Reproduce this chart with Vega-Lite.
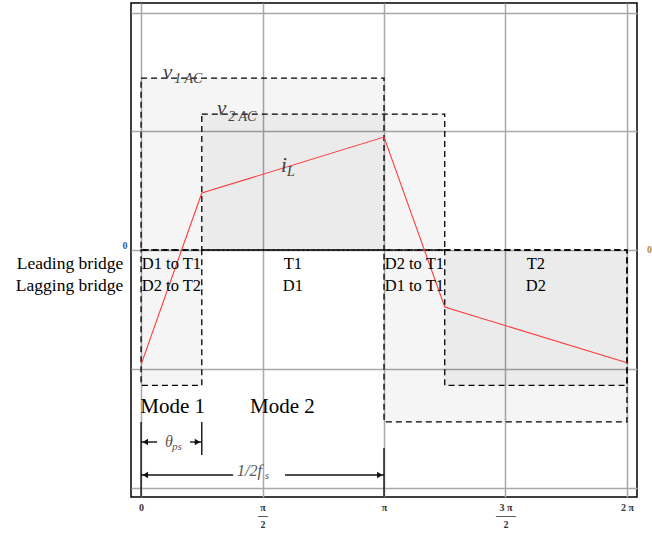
{
  "$schema": "https://vega.github.io/schema/vega-lite/v6.json",
  "width": 506,
  "height": 494,
  "autosize": {"type": "none"},
  "padding": {"left": 131, "top": 3, "right": 15, "bottom": 36},
  "config": {
    "view": {"stroke": "#000000", "strokeWidth": 1.5},
    "background": "#ffffff",
    "font": "Liberation Serif, Times New Roman, serif"
  },
  "datasets": {
    "boxes": [
      {"name": "v1 positive", "x": 0, "x2": 3.1416, "y": 0, "y2": 1.448},
      {"name": "v1 negative", "x": 3.1416, "x2": 6.2832, "y": -1.448, "y2": 0},
      {"name": "v2 positive", "x": 0.7854, "x2": 3.927, "y": 0, "y2": 1.145},
      {"name": "v2 negative start", "x": 0, "x2": 0.7854, "y": -1.14, "y2": 0},
      {"name": "v2 negative end", "x": 3.927, "x2": 6.2832, "y": -1.14, "y2": 0}
    ],
    "current": [
      {"x": 0, "y": -0.965},
      {"x": 0.7854, "y": 0.48},
      {"x": 3.1416, "y": 0.951},
      {"x": 3.927, "y": -0.48},
      {"x": 6.2832, "y": -0.95}
    ],
    "guides": [
      {"part": "theta left", "x": 0, "x2": 0.207, "y": -1.617, "y2": -1.617},
      {"part": "theta right", "x": 0.634, "x2": 0.7854, "y": -1.617, "y2": -1.617},
      {"part": "period left", "x": 0, "x2": 1.19, "y": -1.895, "y2": -1.895},
      {"part": "period right", "x": 1.862, "x2": 3.1416, "y": -1.895, "y2": -1.895},
      {"part": "mark 0", "x": 0, "x2": 0, "y": -1.448, "y2": -2.08},
      {"part": "mark theta", "x": 0.7854, "x2": 0.7854, "y": -1.448, "y2": -1.726},
      {"part": "mark pi", "x": 3.1416, "x2": 3.1416, "y": -1.667, "y2": -2.08}
    ],
    "heads": [
      {"x": 0.055, "y": -1.617, "dir": "left"},
      {"x": 0.73, "y": -1.617, "dir": "right"},
      {"x": 0.055, "y": -1.895, "dir": "left"},
      {"x": 3.087, "y": -1.895, "dir": "right"}
    ],
    "labels": [
      {"kind": "bridge", "x": -0.23, "y": -0.16, "label": "Leading bridge"},
      {"kind": "bridge", "x": -0.23, "y": -0.345, "label": "Lagging bridge"},
      {"kind": "state", "x": 0.3927, "y": -0.16, "label": "D1 to T1"},
      {"kind": "state", "x": 0.3927, "y": -0.345, "label": "D2 to T2"},
      {"kind": "state", "x": 1.9635, "y": -0.16, "label": "T1"},
      {"kind": "state", "x": 1.9635, "y": -0.345, "label": "D1"},
      {"kind": "state", "x": 3.5343, "y": -0.16, "label": "D2 to T1"},
      {"kind": "state", "x": 3.5343, "y": -0.345, "label": "D1 to T1"},
      {"kind": "state", "x": 5.1051, "y": -0.16, "label": "T2"},
      {"kind": "state", "x": 5.1051, "y": -0.345, "label": "D2"},
      {"kind": "mode", "x": -0.01, "y": -1.373, "label": "Mode 1"},
      {"kind": "mode", "x": 1.41, "y": -1.373, "label": "Mode 2"},
      {"kind": "math", "x": 0.284, "y": 1.44, "label": "v"},
      {"kind": "mathsub", "x": 0.43, "y": 1.405, "label": "1 AC"},
      {"kind": "math", "x": 0.982, "y": 1.137, "label": "v"},
      {"kind": "mathsub", "x": 1.128, "y": 1.085, "label": "2 AC"},
      {"kind": "math", "x": 1.81, "y": 0.657, "label": "i"},
      {"kind": "mathsub", "x": 1.888, "y": 0.62, "label": "L"},
      {"kind": "annot", "x": 0.31, "y": -1.659, "label": "θ"},
      {"kind": "annotsub", "x": 0.4, "y": -1.684, "label": "ps"},
      {"kind": "annot", "x": 1.241, "y": -1.903, "label": "1/2f"},
      {"kind": "annotsub", "x": 1.6, "y": -1.928, "label": "s"},
      {"kind": "zero", "x": 6.543, "y": 0, "label": "0"}
    ]
  },
  "encoding": {
    "x": {
      "field": "x",
      "type": "quantitative",
      "scale": {"domain": [-0.13, 6.413], "nice": false, "zero": false},
      "axis": {
        "title": null,
        "values": [0, 1.5708, 3.1416, 4.7124, 6.2832],
        "labelExpr": "datum.value < 0.1 ? '0' : datum.value < 2 ? ['π', '—', '2'] : datum.value < 3.5 ? 'π' : datum.value < 5 ? ['3 π', '——', '2'] : '2 π'",
        "labelFont": "Liberation Serif, Times New Roman, serif",
        "labelFontWeight": "bold",
        "labelFontSize": 10,
        "labelColor": "#333333",
        "labelLineHeight": 8.5,
        "labelPadding": 5,
        "labelOverlap": false,
        "labelFlush": false,
        "ticks": false,
        "domain": false,
        "grid": true,
        "gridColor": "#a9a9a9",
        "gridWidth": 1.5
      }
    },
    "y": {
      "field": "y",
      "type": "quantitative",
      "scale": {"domain": [-2.08, 2.08], "nice": false, "zero": false},
      "axis": {
        "title": null,
        "values": [-2, -1, 0, 1, 2],
        "labelExpr": "datum.value == 0 ? '0' : ''",
        "labelFont": "Liberation Serif, Times New Roman, serif",
        "labelFontWeight": "bold",
        "labelFontSize": 10,
        "labelColor": "#34578f",
        "labelBaseline": "bottom",
        "labelPadding": 4,
        "ticks": false,
        "domain": false,
        "grid": true,
        "gridColor": "#a9a9a9",
        "gridWidth": 1.5
      }
    }
  },
  "layer": [
    {
      "data": {"name": "boxes"},
      "mark": {
        "type": "rect",
        "fill": "#000000",
        "fillOpacity": 0.038,
        "stroke": "#000000",
        "strokeWidth": 1.3,
        "strokeDash": [6, 4]
      },
      "encoding": {
        "x2": {"field": "x2"},
        "y2": {"field": "y2"}
      }
    },
    {
      "data": {"name": "current"},
      "mark": {"type": "line", "color": "#ff3b3b", "strokeWidth": 1.1},
      "encoding": {}
    },
    {
      "data": {"name": "guides"},
      "mark": {"type": "rule", "color": "#111111", "strokeWidth": 1.4},
      "encoding": {
        "x2": {"field": "x2"},
        "y2": {"field": "y2"}
      }
    },
    {
      "data": {"name": "heads"},
      "mark": {"type": "point", "filled": true, "color": "#111111", "size": 40, "opacity": 1},
      "encoding": {
        "shape": {
          "field": "dir",
          "type": "nominal",
          "scale": {"domain": ["left", "right"], "range": ["triangle-left", "triangle-right"]},
          "legend": null
        }
      }
    },
    {
      "data": {"name": "labels"},
      "transform": [{"filter": "datum.kind == 'bridge'"}],
      "mark": {"type": "text", "font": "Liberation Serif, Times New Roman, serif", "fontSize": 17.5, "align": "right", "baseline": "alphabetic", "color": "#000000"},
      "encoding": {"text": {"field": "label"}}
    },
    {
      "data": {"name": "labels"},
      "transform": [{"filter": "datum.kind == 'state'"}],
      "mark": {"type": "text", "font": "Liberation Serif, Times New Roman, serif", "fontSize": 16.5, "align": "center", "baseline": "alphabetic", "color": "#000000"},
      "encoding": {"text": {"field": "label"}}
    },
    {
      "data": {"name": "labels"},
      "transform": [{"filter": "datum.kind == 'mode'"}],
      "mark": {"type": "text", "font": "Liberation Serif, Times New Roman, serif", "fontSize": 21, "align": "left", "baseline": "alphabetic", "color": "#000000"},
      "encoding": {"text": {"field": "label"}}
    },
    {
      "data": {"name": "labels"},
      "transform": [{"filter": "datum.kind == 'math'"}],
      "mark": {"type": "text", "font": "Liberation Serif, Times New Roman, serif", "fontStyle": "italic", "fontSize": 21, "align": "left", "baseline": "alphabetic", "color": "#404040"},
      "encoding": {"text": {"field": "label"}}
    },
    {
      "data": {"name": "labels"},
      "transform": [{"filter": "datum.kind == 'mathsub'"}],
      "mark": {"type": "text", "font": "Liberation Serif, Times New Roman, serif", "fontStyle": "italic", "fontSize": 14, "align": "left", "baseline": "alphabetic", "color": "#404040"},
      "encoding": {"text": {"field": "label"}}
    },
    {
      "data": {"name": "labels"},
      "transform": [{"filter": "datum.kind == 'annot'"}],
      "mark": {"type": "text", "font": "Liberation Serif, Times New Roman, serif", "fontStyle": "italic", "fontSize": 16, "align": "left", "baseline": "alphabetic", "color": "#555555"},
      "encoding": {"text": {"field": "label"}}
    },
    {
      "data": {"name": "labels"},
      "transform": [{"filter": "datum.kind == 'annotsub'"}],
      "mark": {"type": "text", "font": "Liberation Serif, Times New Roman, serif", "fontStyle": "italic", "fontSize": 11, "align": "left", "baseline": "alphabetic", "color": "#555555"},
      "encoding": {"text": {"field": "label"}}
    },
    {
      "data": {"name": "labels"},
      "transform": [{"filter": "datum.kind == 'zero'"}],
      "mark": {"type": "text", "font": "Liberation Serif, Times New Roman, serif", "fontWeight": "bold", "fontSize": 10, "align": "left", "baseline": "middle", "color": "#b08a3a"},
      "encoding": {"text": {"field": "label"}}
    }
  ]
}
